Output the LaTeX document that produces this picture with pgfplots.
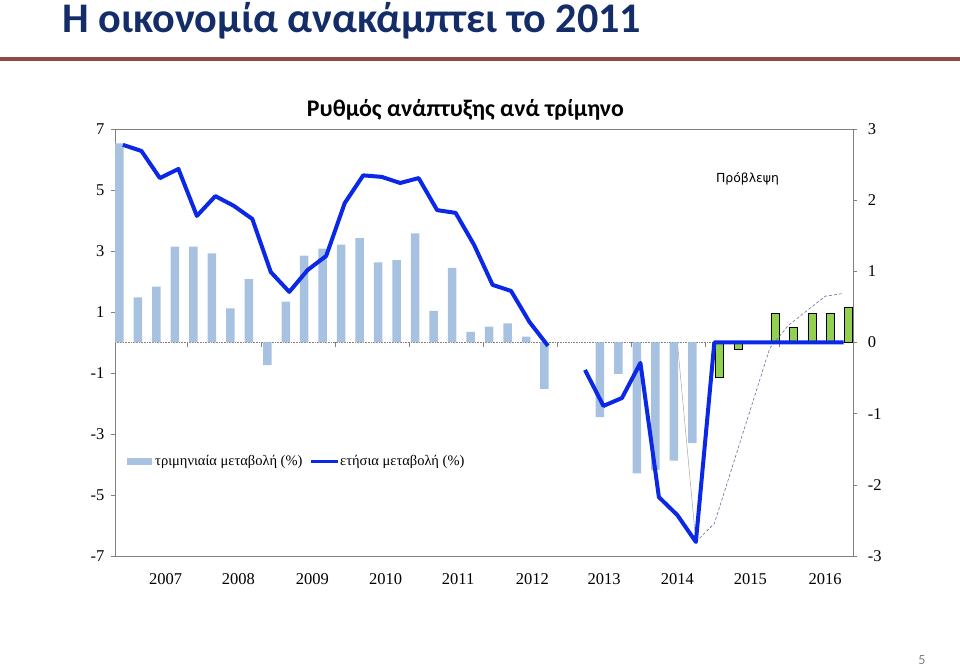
\documentclass[border=0pt]{standalone}
\usepackage{fontspec}
\setmainfont{Liberation Serif}
\newfontfamily\calibri{Carlito}
\newfontfamily\dejavu{DejaVu Sans}
\usepackage{pgfplots}
\pgfplotsset{compat=1.18}
\definecolor{qbar}{RGB}{167,193,224}
\definecolor{aline}{RGB}{10,40,230}
\definecolor{gbar}{RGB}{146,208,80}
\definecolor{navy}{RGB}{20,45,105}
\definecolor{rulec}{RGB}{140,75,62}
\definecolor{axgray}{RGB}{128,128,128}
\definecolor{fcline}{RGB}{100,115,160}
\begin{document}
\begin{tikzpicture}[x=1pt,y=1pt]
\path[use as bounding box] (0,0) rectangle (960,668);
\pgfplotsset{common/.style={
  at={(115pt,112pt)}, anchor=south west, scale only axis,
  width=738.3pt, height=427pt,
  xmin=-0.43, xmax=39.52,
  axis line style={axgray, line width=0.8pt}, tick style={axgray, line width=0.6pt},
  tick align=outside, major tick length=4pt,
  /pgf/number format/assume math mode=true,
  tick label style={font=\fontsize{16.5}{16.5}\selectfont},
}}
% right axis (forecast series)
\begin{axis}[common, ymin=-3, ymax=3, ytick={-3,...,3},
  axis y line*=right, axis x line=none, ytick pos=right,
  yticklabel style={xshift=7pt}]
\draw[axgray, densely dotted, line width=0.6pt] (axis cs:-0.43,0) -- (axis cs:39.52,0);
\addplot[ybar, bar width=8pt, bar shift=0pt, fill=gbar, draw=black, line width=0.8pt]
  coordinates {(32.28,-0.49) (33.28,-0.09) (35.28,0.41) (36.28,0.21) (37.28,0.41) (38.28,0.41) (39.28,0.50)};
\addplot[gray!70, line width=0.5pt] coordinates {(30,0) (31,-2.80)};
\addplot[fcline, densely dashed, line width=0.6pt]
  coordinates {(31,-2.80) (32,-2.545) (35,-0.08) (36,0.24) (38,0.65) (39,0.69)};
\end{axis}
% left axis (history)
\begin{axis}[common, ymin=-7, ymax=7, ytick={-7,-5,...,7}, ytick pos=left,
  yticklabel style={xshift=-3pt},
  xtick={2.31,6.24,10.25,14.22,18.14,22.16,26.04,30.0,33.95,38.0},
  xticklabels={2007,2008,2009,2010,2011,2012,2013,2014,2015,2016},
  xtick pos=bottom, xtick style={draw=none},
  xticklabel style={anchor=base, yshift=-25pt},
  unbounded coords=jump]
\addplot[ybar, bar width=8.5pt, bar shift=0pt, fill=qbar, draw=none]
  coordinates {(-0.19,6.53) (0.81,1.48) (1.81,1.83) (2.81,3.14) (3.81,3.14) (4.81,2.92)
  (5.81,1.12) (6.81,2.08) (7.81,-0.74) (8.81,1.34) (9.81,2.85) (10.81,3.08) (11.81,3.21)
  (12.81,3.42) (13.81,2.63) (14.81,2.70) (15.81,3.58) (16.81,1.04) (17.81,2.45)
  (18.81,0.35) (19.81,0.52) (20.81,0.63) (21.81,0.19) (22.81,-1.52)
  (25.81,-2.45) (26.81,-1.03) (27.81,-4.29) (28.81,-4.18) (29.81,-3.87) (30.81,-3.30)};
\addplot[ycomb, axgray, line width=0.5pt, mark=none]
  coordinates {(3.5,-0.15) (7.5,-0.15) (11.5,-0.15) (15.5,-0.15) (19.5,-0.15) (23.5,-0.15) (27.5,-0.15) (31.5,-0.15) (35.5,-0.15)};
\addplot[aline, line width=4pt, line join=round]
  coordinates {(0,6.48) (1,6.28) (2,5.39) (3,5.69) (4,4.15) (5,4.80) (6,4.48) (7,4.05)
  (8,2.31) (9,1.66) (10,2.38) (11,2.84) (12,4.57) (13,5.48) (14,5.43) (15,5.23)
  (16,5.39) (17,4.34) (18,4.25) (19,3.20) (20,1.89) (21,1.69) (22,0.67) (23,-0.11)
  (24,nan) (25,-0.90) (26,-2.08) (27,-1.82) (28,-0.67) (29,-5.07) (30,-5.66) (31,-6.54)
  (32,0) (33,0) (34,0) (35,0) (36,0) (37,0) (38,0) (39,0)};
\end{axis}
% legend
\fill[qbar] (127,203) rectangle (152,210);
\node[anchor=west, inner sep=0pt, font=\fontsize{14.5}{14.5}\selectfont] at (155,206.5) {τριμηνιαία μεταβολή (\%)};
\draw[aline, line width=3pt] (311,206.5) -- (338,206.5);
\node[anchor=west, inner sep=0pt, font=\fontsize{14.5}{14.5}\selectfont] at (340,206.5) {ετήσια μεταβολή (\%)};
% forecast label
\node[inner sep=0pt] at (747.5,489) {\resizebox{63pt}{!}{\dejavu Πρόβλεψη}};
% chart title
\node[inner sep=0pt] at (465.5,558) {\resizebox{317pt}{!}{\calibri\bfseries Ρυθμός ανάπτυξης ανά τρίμηνο}};
% slide title
\node[anchor=base west, inner sep=0pt, text=navy] at (62,635) {\resizebox{579pt}{!}{\calibri\bfseries Η οικονομία ανακάμπτει το 2011}};
\fill[rulec] (0,606.5) rectangle (960,610.5);
\node[text=gray, inner sep=0pt, font=\calibri\fontsize{14}{14}\selectfont] at (922,8) {5};
\end{tikzpicture}
\end{document}
